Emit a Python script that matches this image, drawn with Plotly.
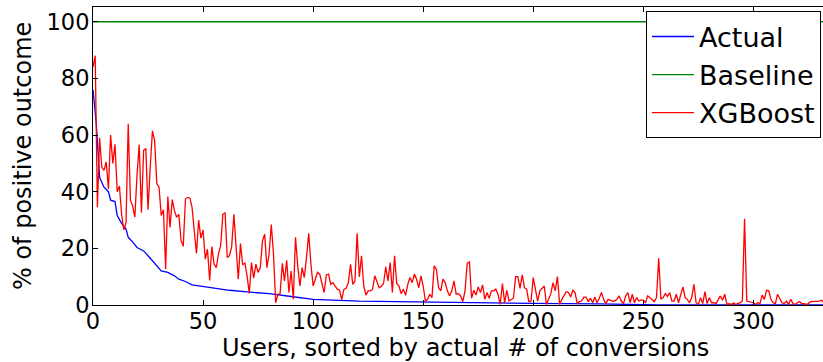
import plotly.graph_objects as go

# XGBoost predicted % per user (index = user rank)
xgboost = [
    84, 88, 34.5, 59, 48.7, 47.5, 50.5, 41, 60, 50, 56.7, 40, 42, 32, 26.5, 29, 64, 37, 35, 31,
    46, 56.6, 32.6, 54.6, 55.2, 33.6, 48.7, 61.5, 58, 42.8, 41.6, 31.6, 33.6, 12.6, 38.3, 27.4, 37.2, 33.3, 31, 32,
    22.7, 20.7, 37.4, 38, 37.8, 34.5, 26.2, 18.2, 30, 23.6, 26.5, 16.2, 19.7, 8.7, 20.6, 14.4, 13.2, 18, 21, 32,
    32.6, 16.8, 17.4, 20.6, 32, 18.6, 9.1, 21.7, 14.2, 14.8, 10.3, 4.1, 15, 9.5, 14.4, 11.5, 13.2, 22.7, 25, 13.2,
    18,
    28.4, 18, 0.8, 3.8, 4, 14.7, 8.5, 15.8, 4.4, 12, 2, 23.9, 13.8, 6.7, 13.2, 9.7, 16.8, 25.3, 14.4, 6.7,
    9.1, 11.5, 10.9, 7.9, 4.4, 10.6, 10.9, 7.3, 7.9, 6.7, 5.6, 5.2, 1.9, 5.6, 5.9, 7.9, 14.4, 7.3, 8.5, 25.3,
    9.9, 17.4, 6.7, 3.5, 5, 5, 5.6, 10.3, 7.9, 6.1, 6.6, 7.6, 13.5, 8.5, 15, 4.4, 17.4, 7.6, 6.7, 4,
    5.6, 3.4, 7.3, 9.7, 7.9, 10.9, 9.1, 6.1, 10.3, 6.7, 1.4, 2, 3.8, 2.6, 13.8, 12.6, 6.1, 5, 9.1, 7.9,
    5, 3.2, 5, 8.5, 3.8, 4,
    3.2, 1.2, 5, 14.7, 15.2, 2.4, 5.2, 3.5, 6.4, 4.4, 7.1, 2, 4.4, 2.4, 5, 5, 5.6, 3.8, 0.2, 7.6,
    0.8, 5.2, 1.4, 2, 2.4, 10, 10, 5.9, 10.6, 6.1, 5.6, 1.2, 1.4, 9.7, 6.1, 1.4, 5, 5.9, 6.7, 0.2,
    2.4, 4, 7.9, 5, 10, 0.2, 2, 3.2, 4.7, 4.4, 2.8, 5.2, 4.4, 0.5, 1.2, 1.4, 2.8, 2.8, 1.2, 2.4,
    0.8, 2.8, 0.8, 2.4, 4.4, 2, 0.5, 2, 1.7, 1.4, 1.4, 2, 3.2, 1.4, 0.5, 3.2, 4.4, 0.8, 3.8, 0.8,
    2.6, 1.4, 1.7, 1.7, 0.8, 3.2, 2.6,
    1.7, 1.2, 2.6, 16.5, 2, 2.6, 4, 3, 4.4, 1.4, 1.4, 3.8, 0.8, 3.8, 6.4, 2.6, 2, 0.8, 2.6, 7.3,
    0.8, 0.2, 2.6, 0.5, 4.7, 0.5, 2.6, 0.8, 0.8, 0.5, 1.7, 3.2, 1.7, 3.8, 0.2, 0.5, 0.2, 0.8, 0.2, 0.5,
    0.8, 1.4, 30.4, 1.4, 1.2, 1.2, 0.8, 0.2, 0.8, 0.5, 3.5, 2, 5.2, 5, 2, 0.8, 0.5, 3.8, 2, 0.8,
    0.5, 1.4, 0.2, 2, 0.5, 0.2, 0.8, 1.2, 0.5, 0.5, 0.2, 0.5, 1.2, 1.2, 1.4, 1.2, 1.4, 1.7, 0.8,
]
users = list(range(len(xgboost)))

# Actual % (sorted, read at breakpoints)
actual_users = [0, 1.5, 3, 5, 7, 8, 10, 11, 13, 15, 16, 18, 20, 23, 25, 27, 29, 31, 34, 37,
                39, 42, 45, 50, 56, 62, 70, 80, 90, 100, 121, 150, 167, 200, 230, 256, 257, 338]
actual = [76, 64, 45, 41.6, 40, 37, 36.5, 31.6, 28.8, 26.8, 23.9, 22.3, 20.3, 19.1, 17.4, 15.6, 13.8, 12, 11.5, 10.3,
          9.1, 8.3, 7.1, 6.5, 5.8, 5.2, 4.6, 4.0, 3.0, 2.0, 1.4, 1.06, 0.7, 0.55, 0.4, 0.25, 0, 0]

baseline = [100.0] * len(xgboost)

x_ticks = [0, 50, 100, 150, 200, 250, 300]
y_ticks = [0, 20, 40, 60, 80, 100]

x_title = "Users, sorted by actual # of conversions"
y_title = "% of positive outcome"

FONT = "DejaVu Sans"

fig = go.Figure()
fig.add_trace(go.Scatter(x=actual_users, y=actual, mode="lines", name="Actual",
                         line=dict(color="#0000ff", width=1.3)))
fig.add_trace(go.Scatter(x=users, y=baseline, mode="lines", name="Baseline",
                         line=dict(color="#008000", width=1.3)))
fig.add_trace(go.Scatter(x=users, y=xgboost, mode="lines", name="XGBoost",
                         line=dict(color="#ff0000", width=1.3)))

# The original figure is wider than the visible window (its right part is cropped).
fig.update_layout(
    width=850, height=362,
    margin=dict(l=93, r=13, t=7, b=57, autoexpand=False),
    paper_bgcolor="white", plot_bgcolor="white",
    font=dict(family=FONT, color="black"),
    showlegend=True,
    legend=dict(
        x=0.7433, y=0.985, xanchor="left", yanchor="top",
        bgcolor="white", bordercolor="black", borderwidth=1,
        font=dict(family=FONT, size=27, color="black"),
        tracegroupgap=0, itemwidth=42,
    ),
    xaxis=dict(
        range=[0, 338], tickvals=x_ticks, ticktext=[str(v) for v in x_ticks],
        ticks="inside", ticklen=5, tickwidth=1, tickcolor="black",
        showline=True, linecolor="black", linewidth=1, mirror="ticks",
        showgrid=False, zeroline=False, automargin=False,
        tickfont=dict(family=FONT, size=22.5, color="black"),
        ticklabelstandoff=-4,
    ),
    yaxis=dict(
        range=[0, 105.2], tickvals=y_ticks, ticktext=[str(v) for v in y_ticks],
        ticks="inside", ticklen=5, tickwidth=1, tickcolor="black",
        showline=True, linecolor="black", linewidth=1, mirror="ticks",
        showgrid=False, zeroline=False, automargin=False,
        tickfont=dict(family=FONT, size=22.5, color="black"),
        ticklabelstandoff=-2,
    ),
    annotations=[
        dict(text=x_title, xref="paper", yref="paper", x=0.5, y=0, xanchor="center", yanchor="middle",
             yshift=-43, showarrow=False, font=dict(family=FONT, size=24, color="black")),
        dict(text=y_title, xref="paper", yref="paper", x=0, y=0.5, xanchor="center", yanchor="middle",
             xshift=-70, textangle=-90, showarrow=False, font=dict(family=FONT, size=24, color="black")),
    ],
)

post = ("document.documentElement.style.margin='0';document.body.style.margin='0';"
        "document.documentElement.style.overflow='hidden';document.body.style.overflow='hidden';")

fig.write_html("out.html", post_script=post, config={"displayModeBar": False})
